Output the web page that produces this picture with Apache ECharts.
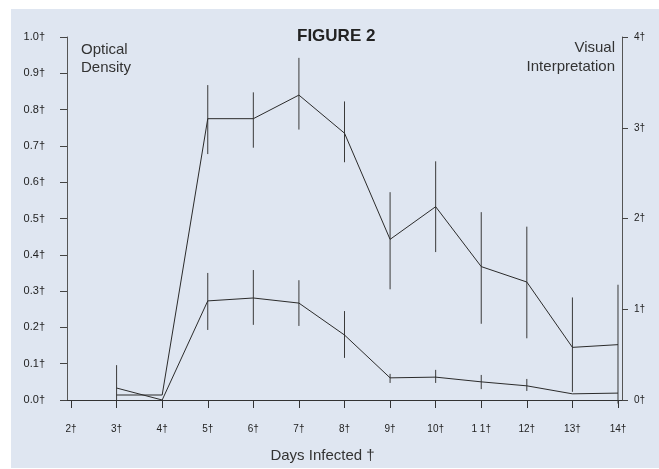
<!DOCTYPE html>
<html>
<head>
<meta charset="utf-8">
<script src="https://cdn.jsdelivr.net/npm/echarts@6/dist/echarts.min.js"></script>
<style>
  html, body { margin: 0; padding: 0; background: #fff; }
  #chart { width: 659px; height: 469px; }
</style>
</head>
<body>
<div id="chart"></div>
<script>
// 横轴 天数
const days = [3, 4, 5, 6, 7, 8, 9, 10, 11, 12, 13, 14]
const xTicks = [2, 3, 4, 5, 6, 7, 8, 9, 10, 11, 12, 13, 14]
const xTickLabels = ['2†', '3†', '4†', '5†', '6†', '7†', '8†', '9†', '10†', '1 1†', '12†', '13†', '14†']
const leftTickLabels = ['0.0†', '0.1†', '0.2†', '0.3†', '0.4†', '0.5†', '0.6†', '0.7†', '0.8†', '0.9†', '1.0†']
const rightTickLabels = ['0†', '1†', '2†', '3†', '4†']

// Optical Density (左轴)
const densityMean = [0.033, 0.0, 0.273, 0.281, 0.267, 0.179, 0.061, 0.063, 0.050, 0.039, 0.017, 0.019]
const densityLow = [0.0, 0.0, 0.193, 0.207, 0.204, 0.116, 0.047, 0.047, 0.030, 0.025, 0.017, 0.019]
const densityHigh = [0.096, 0.0, 0.350, 0.358, 0.330, 0.245, 0.072, 0.083, 0.069, 0.058, 0.017, 0.019]

// Visual Interpretation (右轴)
const visualMean = [0.055, 0.055, 3.10, 3.10, 3.36, 2.94, 1.77, 2.13, 1.47, 1.30, 0.58, 0.61]
const visualLow = [0.055, 0.055, 2.71, 2.78, 2.98, 2.62, 1.22, 1.63, 0.84, 0.68, 0.09, -0.04]
const visualHigh = [0.055, 0.055, 3.47, 3.39, 3.77, 3.29, 2.29, 2.63, 2.07, 1.91, 1.13, 1.27]

const font = 'Liberation Sans, Arial, sans-serif'
const ink = '#2b2b2b'

function pairs(ys) {
  return days.map((d, i) => [d, ys[i]])
}
function bars(lo, hi) {
  return days.map((d, i) => [d, lo[i], hi[i]])
}
function errorBar(params, api) {
  const a = api.coord([api.value(0), api.value(1)])
  const b = api.coord([api.value(0), api.value(2)])
  return {
    type: 'line',
    shape: { x1: a[0], y1: a[1], x2: b[0], y2: b[1] },
    style: { stroke: '#3a3a3a', lineWidth: 1 }
  }
}

const chart = echarts.init(document.getElementById('chart'))
chart.setOption({
  animation: false,
  backgroundColor: '#ffffff',
  graphic: [
    {
      type: 'rect', z: -10, silent: true,
      shape: { x: 11, y: 9, width: 648, height: 459 },
      style: { fill: '#dfe6f1' }
    },
    {
      type: 'text', silent: true, x: 615, y: 38,
      style: {
        text: 'Visual\nInterpretation', align: 'right', verticalAlign: 'top',
        font: '15px ' + font, fill: '#333', lineHeight: 19
      }
    }
  ],
  title: [
    { text: 'FIGURE 2', left: 292, top: 23,
      textStyle: { fontFamily: font, fontSize: 17, fontWeight: 'bold', color: '#222' } },
    { text: 'Optical\nDensity', left: 76, top: 36,
      textStyle: { fontFamily: font, fontSize: 15, fontWeight: 'normal', color: '#333', lineHeight: 18 } }
  ],
  grid: { left: 67, right: 37, top: 37, bottom: 69 },
  xAxis: {
    type: 'value', min: 1.912, max: 14.088,
    offset: 7,
    splitLine: { show: false },
    axisLine: { lineStyle: { color: '#333', width: 1 } },
    axisTick: { customValues: xTicks, length: 8, lineStyle: { color: '#333' } },
    axisLabel: {
      customValues: xTicks, margin: 17,
      fontFamily: font, fontSize: 10, color: '#222',
      formatter: v => xTickLabels[xTicks.indexOf(Math.round(v))]
    },
    name: 'Days Infected †', nameLocation: 'middle', nameGap: 41,
    nameTextStyle: { fontFamily: font, fontSize: 15, color: '#333', padding: [0, 44, 0, 0] }
  },
  yAxis: [
    {
      type: 'value', min: 0, max: 1, interval: 0.1,
      splitLine: { show: false },
      axisLine: { show: true, lineStyle: { color: '#555', width: 1 } },
      axisTick: { show: true, length: 7, lineStyle: { color: '#444' } },
      axisLabel: {
        margin: 22, fontFamily: font, fontSize: 11, color: '#222',
        formatter: v => leftTickLabels[Math.round(v * 10)]
      }
    },
    {
      type: 'value', min: 0, max: 4, interval: 1,
      position: 'right',
      splitLine: { show: false },
      axisLine: { show: true, lineStyle: { color: '#555', width: 1 } },
      axisTick: { show: true, length: 6, lineStyle: { color: '#444' } },
      axisLabel: {
        margin: 12, fontFamily: font, fontSize: 10, color: '#222',
        formatter: v => rightTickLabels[Math.round(v)]
      }
    }
  ],
  series: [
    {
      name: 'Optical Density', type: 'line', yAxisIndex: 0,
      data: pairs(densityMean), showSymbol: false, symbol: 'none',
      lineStyle: { color: ink, width: 1 }
    },
    {
      name: 'Visual Interpretation', type: 'line', yAxisIndex: 1,
      data: pairs(visualMean), showSymbol: false, symbol: 'none',
      lineStyle: { color: ink, width: 1 }
    },
    {
      type: 'custom', yAxisIndex: 0, renderItem: errorBar,
      encode: { x: 0, y: [1, 2] }, data: bars(densityLow, densityHigh)
    },
    {
      type: 'custom', yAxisIndex: 1, renderItem: errorBar,
      encode: { x: 0, y: [1, 2] }, data: bars(visualLow, visualHigh)
    }
  ]
})
</script>
</body>
</html>
